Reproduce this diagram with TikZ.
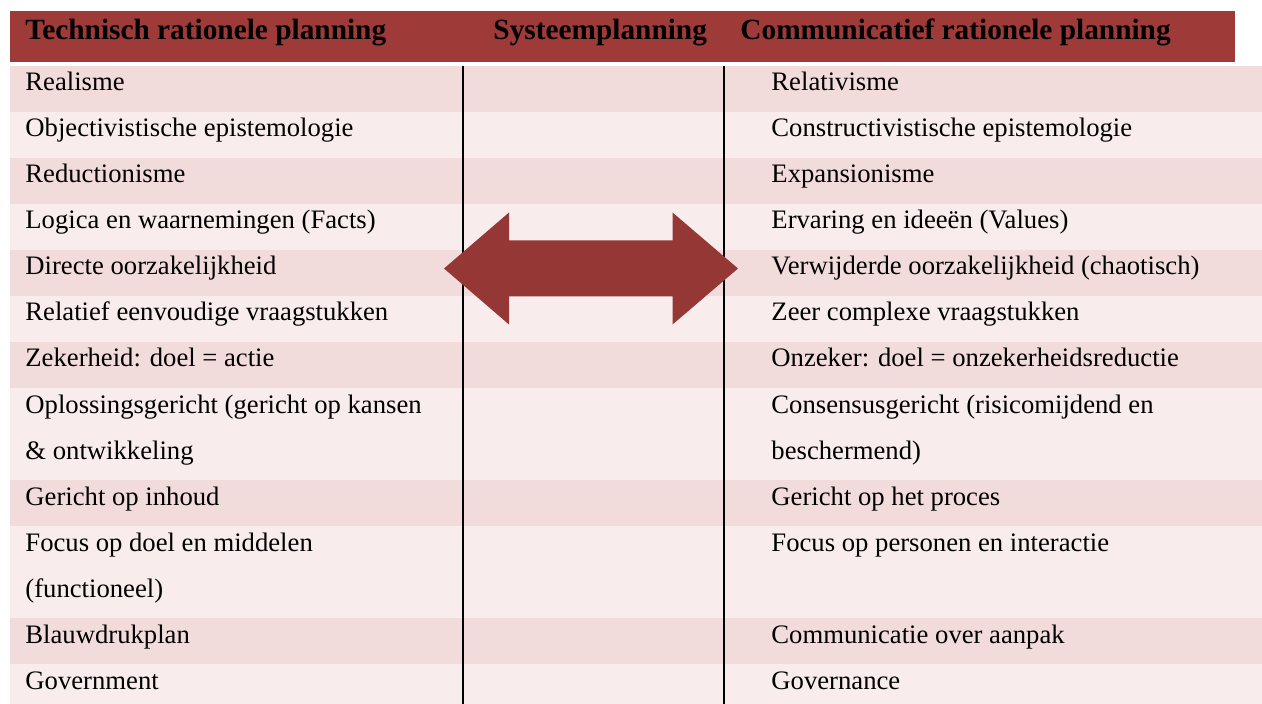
\documentclass[tikz,border=0pt]{standalone}
\usepackage{fontspec}
\setmainfont{Liberation Serif}
\begin{document}
\begin{tikzpicture}[x=0.45pt,y=-0.45pt,
  cell/.style={anchor=base west,inner sep=0pt,font=\fontsize{12}{14}\selectfont},
  headcell/.style={cell,font=\fontsize{13.2}{15}\selectfont\bfseries},
  divider/.style={line width=0.95pt,black}]
\definecolor{hdrred}{RGB}{158,58,56}
\definecolor{arrowred}{RGB}{149,55,53}
\definecolor{rowdark}{RGB}{242,220,219}
\definecolor{rowlight}{RGB}{248,236,236}
\useasboundingbox (0,0) rectangle (1262,704);
\fill[white] (0,0) rectangle (1262,704);

% header band
\fill[hdrred] (10,11) rectangle (1235,62);

% alternating row bands
\foreach \top/\bot/\col in {66/112/rowdark,112/158/rowlight,158/204/rowdark,
  204/250/rowlight,250/296/rowdark,296/342/rowlight,342/388/rowdark,
  388/480/rowlight,480/526/rowdark,526/618/rowlight,618/664/rowdark,664/704/rowlight}
  \fill[\col] (10,\top) rectangle (1262,\bot);

% column dividers
\coordinate (d1t) at (463,66); \coordinate (d1b) at (463,704);
\coordinate (d2t) at (724,66); \coordinate (d2b) at (724,704);
\draw[divider] (d1t) -- (d1b);
\draw[divider] (d2t) -- (d2b);

% header texts
\node[headcell] (h1) at (25,40) {Technisch rationele planning};
\node[headcell] (h2) at (493,40) {Systeemplanning};
\node[headcell] (h3) at (740,40) {Communicatief rationele planning};

% left column
\node[cell] (l1)  at (25,91)  {Realisme};
\node[cell] (l2)  at (25,137) {Objectivistische epistemologie};
\node[cell] (l3)  at (25,183) {Reductionisme};
\node[cell] (l4)  at (25,229) {Logica en waarnemingen (Facts)};
\node[cell] (l5)  at (25,275) {Directe oorzakelijkheid};
\node[cell] (l6)  at (25,321) {Relatief eenvoudige vraagstukken};
\node[cell] (l7)  at (25,367) {Zekerheid: doel = actie};
\node[cell] (l8)  at (25,413) {Oplossingsgericht (gericht op kansen};
\node[cell] (l8b) at (25,459) {\& ontwikkeling};
\node[cell] (l9)  at (25,505) {Gericht op inhoud};
\node[cell] (l10) at (25,551) {Focus op doel en middelen};
\node[cell] (l10b) at (25,597) {(functioneel)};
\node[cell] (l11) at (25,643) {Blauwdrukplan};
\node[cell] (l12) at (25,689) {Government};

% right column
\node[cell] (r1)  at (771,91)  {Relativisme};
\node[cell] (r2)  at (771,137) {Constructivistische epistemologie};
\node[cell] (r3)  at (771,183) {Expansionisme};
\node[cell] (r4)  at (771,229) {Ervaring en ideeën (Values)};
\node[cell] (r5)  at (771,275) {Verwijderde oorzakelijkheid (chaotisch)};
\node[cell] (r6)  at (771,321) {Zeer complexe vraagstukken};
\node[cell] (r7)  at (771,367) {Onzeker: doel = onzekerheidsreductie};
\node[cell] (r8)  at (771,413) {Consensusgericht (risicomijdend en};
\node[cell] (r8b) at (771,459) {beschermend)};
\node[cell] (r9)  at (771,505) {Gericht op het proces};
\node[cell] (r10) at (771,551) {Focus op personen en interactie};
\node[cell] (r11) at (771,643) {Communicatie over aanpak};
\node[cell] (r12) at (771,689) {Governance};

% double-headed arrow between the two planning views
\fill[arrowred] (444,268.5) -- (509,212.5) -- (509,240.5) -- (672.5,240.5)
  -- (672.5,212.5) -- (738,268.5) -- (672.5,324.5) -- (672.5,296.5)
  -- (509,296.5) -- (509,324.5) -- cycle;
\end{tikzpicture}
\end{document}
